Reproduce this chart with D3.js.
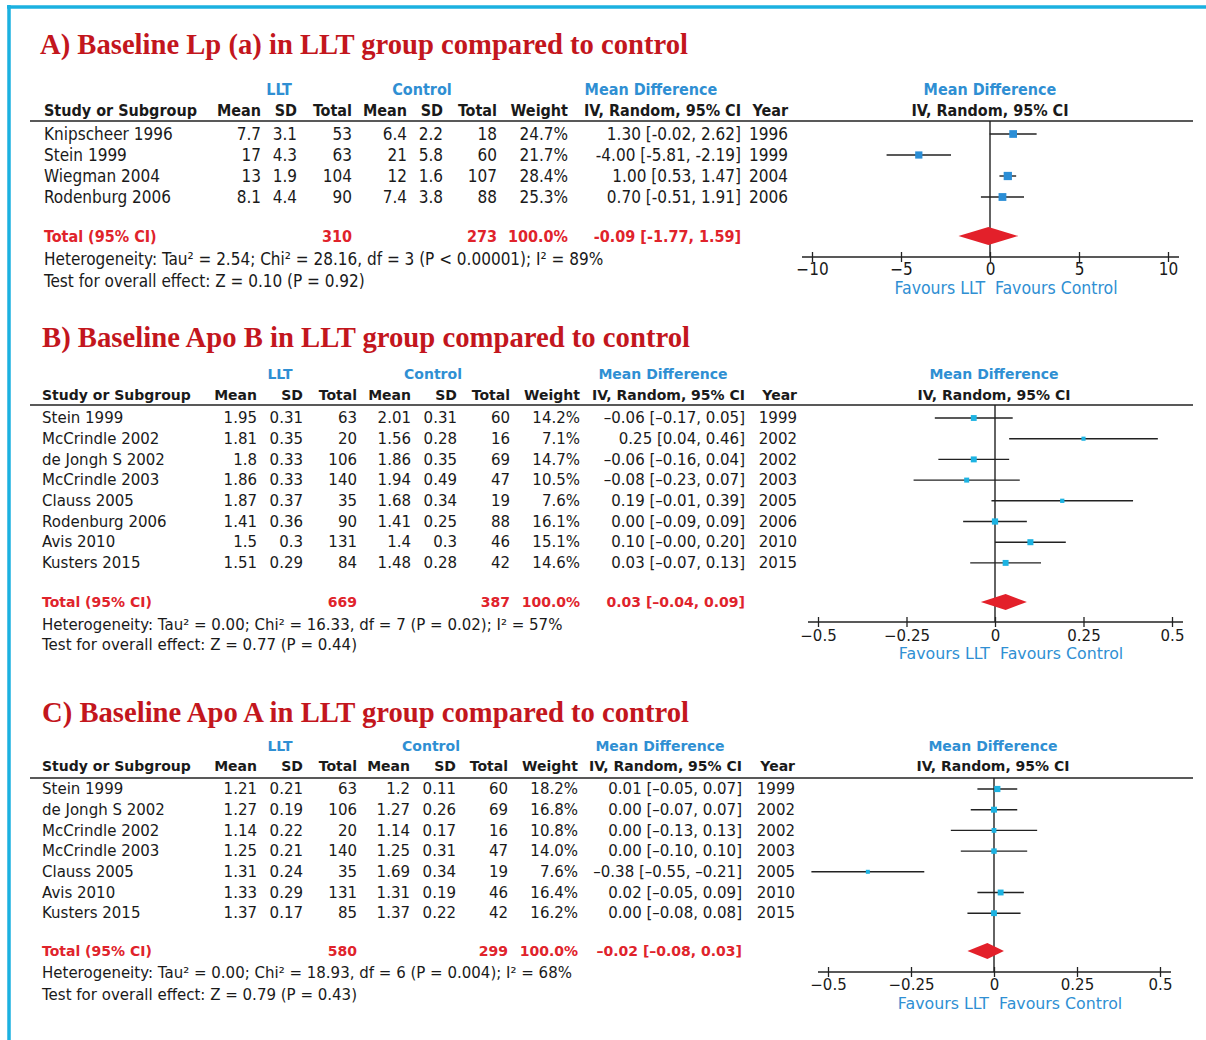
<!DOCTYPE html>
<html>
<head>
<meta charset="utf-8">
<script src="https://cdn.jsdelivr.net/npm/d3@7"></script>
<style>
  body { margin: 0; background: #fff; }
  svg text { fill: #1a1a1a; }
</style>
</head>
<body>
<svg width="1206" height="1040"></svg>
<script>
// ---------- A) Lp (a) ----------
var aStudies = ["Knipscheer 1996", "Stein 1999", "Wiegman 2004", "Rodenburg 2006"];
var aLltMean = [7.7, 17, 13, 8.1];
var aLltSd   = [3.1, 4.3, 1.9, 4.4];
var aLltN    = [53, 63, 104, 90];
var aCtlMean = [6.4, 21, 12, 7.4];
var aCtlSd   = [2.2, 5.8, 1.6, 3.8];
var aCtlN    = [18, 60, 107, 88];
var aWeight  = [24.7, 21.7, 28.4, 25.3];
var aMd      = [1.30, -4.00, 1.00, 0.70];
var aLo      = [-0.02, -5.81, 0.53, -0.51];
var aHi      = [2.62, -2.19, 1.47, 1.91];
var aYear    = [1996, 1999, 2004, 2006];
var aTotalN  = [310, 273];
var aPooled  = [-0.09, -1.77, 1.59];
var aTicks   = [-10, -5, 0, 5, 10];
var aHet  = "Heterogeneity: Tau² = 2.54; Chi² = 28.16, df = 3 (P < 0.00001); I² = 89%";
var aTest = "Test for overall effect: Z = 0.10 (P = 0.92)";

// ---------- B) Apo B ----------
var bStudies = ["Stein 1999", "McCrindle 2002", "de Jongh S 2002", "McCrindle 2003", "Clauss 2005", "Rodenburg 2006", "Avis 2010", "Kusters 2015"];
var bLltMean = [1.95, 1.81, 1.8, 1.86, 1.87, 1.41, 1.5, 1.51];
var bLltSd   = [0.31, 0.35, 0.33, 0.33, 0.37, 0.36, 0.3, 0.29];
var bLltN    = [63, 20, 106, 140, 35, 90, 131, 84];
var bCtlMean = [2.01, 1.56, 1.86, 1.94, 1.68, 1.41, 1.4, 1.48];
var bCtlSd   = [0.31, 0.28, 0.35, 0.49, 0.34, 0.25, 0.3, 0.28];
var bCtlN    = [60, 16, 69, 47, 19, 88, 46, 42];
var bWeight  = [14.2, 7.1, 14.7, 10.5, 7.6, 16.1, 15.1, 14.6];
var bMd      = [-0.06, 0.25, -0.06, -0.08, 0.19, 0.00, 0.10, 0.03];
var bLo      = [-0.17, 0.04, -0.16, -0.23, -0.01, -0.09, -0, -0.07];
var bHi      = [0.05, 0.46, 0.04, 0.07, 0.39, 0.09, 0.20, 0.13];
var bYear    = [1999, 2002, 2002, 2003, 2005, 2006, 2010, 2015];
var bTotalN  = [669, 387];
var bPooled  = [0.03, -0.04, 0.09];
var bTicks   = [-0.5, -0.25, 0, 0.25, 0.5];
var bHet  = "Heterogeneity: Tau² = 0.00; Chi² = 16.33, df = 7 (P = 0.02); I² = 57%";
var bTest = "Test for overall effect: Z = 0.77 (P = 0.44)";

// ---------- C) Apo A ----------
var cStudies = ["Stein 1999", "de Jongh S 2002", "McCrindle 2002", "McCrindle 2003", "Clauss 2005", "Avis 2010", "Kusters 2015"];
var cLltMean = [1.21, 1.27, 1.14, 1.25, 1.31, 1.33, 1.37];
var cLltSd   = [0.21, 0.19, 0.22, 0.21, 0.24, 0.29, 0.17];
var cLltN    = [63, 106, 20, 140, 35, 131, 85];
var cCtlMean = [1.2, 1.27, 1.14, 1.25, 1.69, 1.31, 1.37];
var cCtlSd   = [0.11, 0.26, 0.17, 0.31, 0.34, 0.19, 0.22];
var cCtlN    = [60, 69, 16, 47, 19, 46, 42];
var cWeight  = [18.2, 16.8, 10.8, 14.0, 7.6, 16.4, 16.2];
var cMd      = [0.01, 0.00, 0.00, 0.00, -0.38, 0.02, 0.00];
var cLo      = [-0.05, -0.07, -0.13, -0.10, -0.55, -0.05, -0.08];
var cHi      = [0.07, 0.07, 0.13, 0.10, -0.21, 0.09, 0.08];
var cYear    = [1999, 2002, 2002, 2003, 2005, 2010, 2015];
var cTotalN  = [580, 299];
var cPooled  = [-0.02, -0.08, 0.03];
var cTicks   = [-0.5, -0.25, 0, 0.25, 0.5];
var cHet  = "Heterogeneity: Tau² = 0.00; Chi² = 18.93, df = 6 (P = 0.004); I² = 68%";
var cTest = "Test for overall effect: Z = 0.79 (P = 0.43)";

var svg = d3.select("svg");

var RED = "#e0232b", TITLE_RED = "#c3161d", BLUE = "#2f8fd3";

// frame (top and left cyan rules)
svg.append("line").attr("x1", 7).attr("x2", 1206).attr("y1", 7).attr("y2", 7)
    .attr("stroke", "#1bb1e0").attr("stroke-width", 3.5);
svg.append("line").attr("x1", 9).attr("x2", 9).attr("y1", 5).attr("y2", 1040)
    .attr("stroke", "#1bb1e0").attr("stroke-width", 3.5);

function fmt(v, minus) {
  var neg = v < 0 || Object.is(v, -0);
  return (neg ? minus : "") + Math.abs(v).toFixed(2);
}

function drawPanel(p) {
  var L = p.lay, c = L.cols;
  var g = svg.append("g");

  // title
  g.append("text")
      .attr("x", L.titleX).attr("y", L.titleY)
      .attr("textLength", L.titleW).attr("lengthAdjust", "spacingAndGlyphs")
      .style("font-family", "'Liberation Serif', 'Times New Roman', serif")
      .style("font-weight", "bold").style("font-size", "29px")
      .style("fill", TITLE_RED)
      .text(p.title);

  function txt(x, y, s, anchor, opt) {
    opt = opt || {};
    return g.append("text")
        .attr("x", x).attr("y", y).attr("dy", "0.35em")
        .attr("text-anchor", anchor || "start")
        .style("font-family", L.font)
        .style("font-size", (opt.size || (opt.bold ? L.bsize : L.size)) + "px")
        .style("font-weight", opt.bold ? "bold" : "normal")
        .style("fill", opt.fill || "#1a1a1a")
        .text(s);
  }

  // group headers
  txt(c.g1, L.groupY, "LLT", "middle", {bold: 1, fill: BLUE});
  txt(c.g2, L.groupY, "Control", "middle", {bold: 1, fill: BLUE});
  txt(c.g3, L.groupY, "Mean Difference", "middle", {bold: 1, fill: BLUE});
  txt(c.g4, L.groupY, "Mean Difference", "middle", {bold: 1, fill: BLUE});

  // column headers
  txt(c.study, L.headY, "Study or Subgroup", "start", {bold: 1});
  [["Mean", c.m1], ["SD", c.s1], ["Total", c.n1], ["Mean", c.m2], ["SD", c.s2],
   ["Total", c.n2], ["Weight", c.w], ["IV, Random, 95% CI", c.ci], ["Year", c.yr]]
    .forEach(function(h) { txt(h[1], L.headY, h[0], "end", {bold: 1}); });
  txt(c.g4, L.headY, "IV, Random, 95% CI", "middle", {bold: 1});

  g.append("line").attr("x1", 30).attr("x2", 1193)
      .attr("y1", L.ruleY).attr("y2", L.ruleY)
      .attr("stroke", "#222").attr("stroke-width", 1.6);

  var n = p.studies.length;
  var y = d3.scaleLinear().domain([0, n - 1]).range([L.row0, L.row0 + L.step * (n - 1)]);
  var x = d3.scaleLinear().domain(p.domain).range(L.range);

  // rows
  d3.range(n).forEach(function(i) {
    var yy = y(i);
    txt(c.study, yy, p.studies[i]);
    txt(c.m1, yy, String(p.m1[i]), "end");
    txt(c.s1, yy, String(p.s1[i]), "end");
    txt(c.n1, yy, String(p.n1[i]), "end");
    txt(c.m2, yy, String(p.m2[i]), "end");
    txt(c.s2, yy, String(p.s2[i]), "end");
    txt(c.n2, yy, String(p.n2[i]), "end");
    txt(c.w, yy, p.w[i].toFixed(1) + "%", "end");
    txt(c.ci, yy, fmt(p.md[i], L.minus) + " [" + fmt(p.lo[i], L.minus) + ", " + fmt(p.hi[i], L.minus) + "]", "end");
    txt(c.yr, yy, String(p.yr[i]), "end");
  });

  // totals
  txt(c.study, L.totY, "Total (95% CI)", "start", {bold: 1, fill: RED});
  txt(c.n1, L.totY, String(p.tot[0]), "end", {bold: 1, fill: RED});
  txt(c.n2, L.totY, String(p.tot[1]), "end", {bold: 1, fill: RED});
  txt(c.w, L.totY, "100.0%", "end", {bold: 1, fill: RED});
  txt(c.ci, L.totY, fmt(p.pooled[0], L.minus) + " [" + fmt(p.pooled[1], L.minus) + ", " + fmt(p.pooled[2], L.minus) + "]", "end", {bold: 1, fill: RED});
  txt(c.study, L.hetY, p.het);
  txt(c.study, L.testY, p.test);

  // forest plot
  g.append("line")
      .attr("x1", x(0)).attr("x2", x(0))
      .attr("y1", L.ruleY).attr("y2", L.axisY)
      .attr("stroke", "#222").attr("stroke-width", 1.4);

  g.selectAll(".ci").data(d3.range(n)).enter().append("line")
      .attr("class", "ci")
      .attr("x1", function(i) { return x(p.lo[i]); })
      .attr("x2", function(i) { return x(p.hi[i]); })
      .attr("y1", function(i) { return y(i); })
      .attr("y2", function(i) { return y(i); })
      .attr("stroke", "#222").attr("stroke-width", 1.4);

  g.selectAll(".sq").data(d3.range(n)).enter().append("rect")
      .attr("class", "sq")
      .attr("x", function(i) { return x(p.md[i]) - L.sq * Math.sqrt(p.w[i]) / 2; })
      .attr("y", function(i) { return y(i) - L.sq * Math.sqrt(p.w[i]) / 2; })
      .attr("width", function(i) { return L.sq * Math.sqrt(p.w[i]); })
      .attr("height", function(i) { return L.sq * Math.sqrt(p.w[i]); })
      .attr("fill", L.sqColor);

  g.append("path")
      .attr("d", "M" + x(p.pooled[1]) + "," + L.totY +
                 "L" + x(p.pooled[0]) + "," + (L.totY - L.dia) +
                 "L" + x(p.pooled[2]) + "," + L.totY +
                 "L" + x(p.pooled[0]) + "," + (L.totY + L.dia) + "Z")
      .attr("fill", "#e3202a");

  // axis
  var ax = g.append("g")
      .attr("transform", "translate(0," + L.axisY + ")")
      .call(d3.axisBottom(x).tickValues(p.ticks).tickSize(5).tickSizeOuter(0).tickPadding(2)
            .tickFormat(d3.format("")));
  ax.select(".domain").remove();
  ax.selectAll(".tick line").attr("y1", -5).attr("stroke", "#222").attr("stroke-width", 1.3);
  ax.selectAll(".tick text")
      .attr("y", L.tickY - L.axisY).attr("dy", "0.35em")
      .style("font-family", L.font).style("font-size", L.tsize + "px").style("fill", "#1a1a1a");
  g.append("line")
      .attr("x1", L.range[0] - 10).attr("x2", L.range[1] + 11)
      .attr("y1", L.axisY).attr("y2", L.axisY)
      .attr("stroke", "#222").attr("stroke-width", 1.4);

  txt(x(0) - 5, L.favY, "Favours LLT", "end", {fill: BLUE, size: L.fsize});
  txt(x(0) + 5, L.favY, "Favours Control", "start", {fill: BLUE, size: L.fsize});
}

var condensed = "'DejaVu Sans Condensed', 'Liberation Sans Narrow', sans-serif";
var regular = "'DejaVu Sans', Verdana, sans-serif";

drawPanel({
  title: "A) Baseline Lp (a) in LLT group compared to control",
  studies: aStudies, m1: aLltMean, s1: aLltSd, n1: aLltN, m2: aCtlMean, s2: aCtlSd, n2: aCtlN,
  w: aWeight, md: aMd, lo: aLo, hi: aHi, yr: aYear, tot: aTotalN, pooled: aPooled,
  het: aHet, test: aTest, domain: [-10, 10], ticks: aTicks,
  lay: {
    titleX: 40, titleY: 54, titleW: 648,
    font: condensed, size: 17, bsize: 16, tsize: 17, fsize: 17.5, minus: "-",
    cols: {study: 44, m1: 261, s1: 297, n1: 352, m2: 407, s2: 443, n2: 497, w: 568, ci: 741, yr: 788,
           g1: 279, g2: 422, g3: 651, g4: 990},
    groupY: 89, headY: 110, ruleY: 121, row0: 134, step: 21, totY: 236, hetY: 259, testY: 281,
    range: [812, 1168], axisY: 257, tickY: 269, favY: 288, dia: 9, sq: 1.55, sqColor: "#2b8ed6"
  }
});

drawPanel({
  title: "B) Baseline Apo B in LLT group compared to control",
  studies: bStudies, m1: bLltMean, s1: bLltSd, n1: bLltN, m2: bCtlMean, s2: bCtlSd, n2: bCtlN,
  w: bWeight, md: bMd, lo: bLo, hi: bHi, yr: bYear, tot: bTotalN, pooled: bPooled,
  het: bHet, test: bTest, domain: [-0.5, 0.5], ticks: bTicks,
  lay: {
    titleX: 42, titleY: 347, titleW: 648,
    font: regular, size: 15, bsize: 14, tsize: 15, fsize: 15.8, minus: "\u2013",
    cols: {study: 42, m1: 257, s1: 303, n1: 357, m2: 411, s2: 457, n2: 510, w: 580, ci: 745, yr: 797,
           g1: 280, g2: 433, g3: 663, g4: 994},
    groupY: 374, headY: 395, ruleY: 405, row0: 418, step: 20.7, totY: 602, hetY: 625, testY: 645,
    range: [818, 1172], axisY: 622, tickY: 636, favY: 653, dia: 8, sq: 1.55, sqColor: "#1db3e2"
  }
});

drawPanel({
  title: "C) Baseline Apo A in LLT group compared to control",
  studies: cStudies, m1: cLltMean, s1: cLltSd, n1: cLltN, m2: cCtlMean, s2: cCtlSd, n2: cCtlN,
  w: cWeight, md: cMd, lo: cLo, hi: cHi, yr: cYear, tot: cTotalN, pooled: cPooled,
  het: cHet, test: cTest, domain: [-0.5, 0.5], ticks: cTicks,
  lay: {
    titleX: 42, titleY: 722, titleW: 647,
    font: regular, size: 15, bsize: 14, tsize: 15, fsize: 15.8, minus: "\u2013",
    cols: {study: 42, m1: 257, s1: 303, n1: 357, m2: 410, s2: 456, n2: 508, w: 578, ci: 742, yr: 795,
           g1: 280, g2: 431, g3: 660, g4: 993},
    groupY: 746, headY: 766, ruleY: 778, row0: 789, step: 20.7, totY: 951, hetY: 973, testY: 995,
    range: [828, 1160], axisY: 972, tickY: 985, favY: 1003, dia: 8, sq: 1.45, sqColor: "#1db3e2"
  }
});
</script>
</body>
</html>
